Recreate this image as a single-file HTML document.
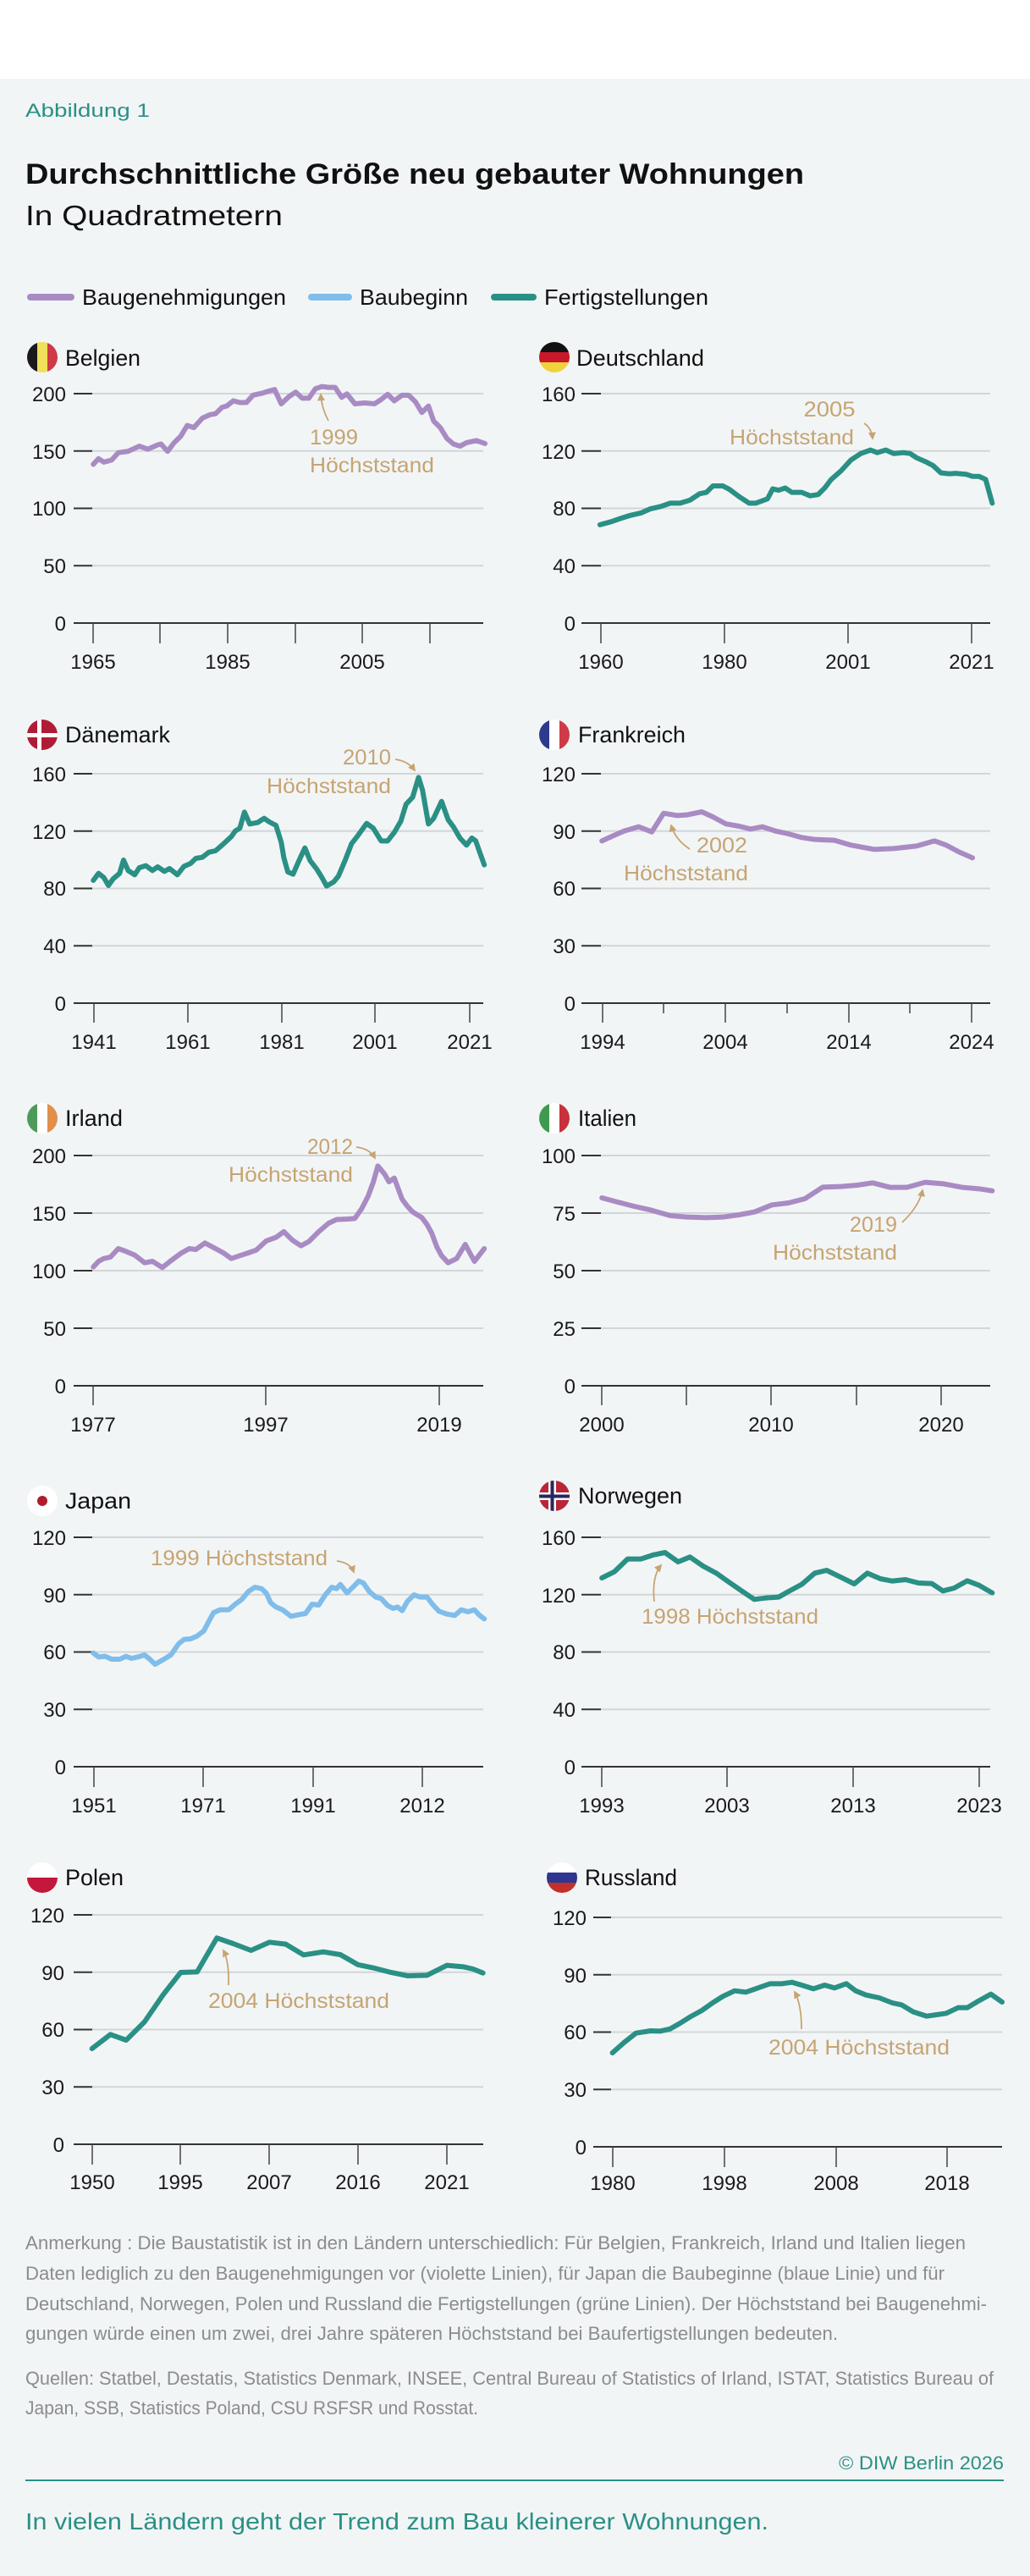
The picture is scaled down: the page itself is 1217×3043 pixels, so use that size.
<!DOCTYPE html>
<html><head><meta charset="utf-8">
<style>
html,body{margin:0;padding:0;background:#fff;}
svg{display:block;}
text{font-family:"Liberation Sans",sans-serif;}
.tk{font-size:24px;fill:#1a1a1a;}
.yr{font-size:24px;fill:#1a1a1a;text-anchor:middle;}
.pt{font-size:27px;fill:#111;}
.an{font-size:25px;fill:#c6a472;}
.nt{font-size:22px;fill:#8c8c8c;}
.g{stroke:#d3d6d8;stroke-width:2;}
.z{stroke:#333;stroke-width:2;}
.d{stroke:#333;stroke-width:2;}
.t{stroke:#444;stroke-width:1.5;}
.s{fill:none;stroke-width:6;stroke-linejoin:round;stroke-linecap:round;vector-effect:non-scaling-stroke;}
.pu{stroke:#a98bc4;}
.bl{stroke:#80bdea;}
.gr{stroke:#2a9085;}
.ar{fill:none;stroke:#c6a472;stroke-width:1.8;}
</style></head>
<body>
<svg width="1217" height="3043" viewBox="0 0 1217 3043" xmlns="http://www.w3.org/2000/svg">
<defs>
<clipPath id="fc" clipPathUnits="userSpaceOnUse"><circle cx="18" cy="18" r="18"/></clipPath>
<marker id="ah" viewBox="0 0 10 10" refX="8" refY="5" markerWidth="5" markerHeight="5" orient="auto"><path d="M0,0 L10,5 L0,10 z" fill="#c6a472"/></marker>
</defs>
<rect x="0" y="0" width="1217" height="3043" fill="#fff"/>
<rect x="0" y="93" width="1217" height="2950" fill="#f2f5f6"/>

<text x="30" y="138" style="font-size:22px;fill:#2a9085" textLength="147" lengthAdjust="spacingAndGlyphs">Abbildung 1</text>
<text x="30" y="217" style="font-size:34px;font-weight:bold;fill:#111" textLength="920" lengthAdjust="spacingAndGlyphs">Durchschnittliche Größe neu gebauter Wohnungen</text>
<text x="30" y="266" style="font-size:33px;fill:#111" textLength="304" lengthAdjust="spacingAndGlyphs">In Quadratmetern</text>

<!-- legend -->
<line x1="36" y1="351" x2="84" y2="351" stroke="#a98bc4" stroke-width="8" stroke-linecap="round"/>
<text x="97" y="360" style="font-size:26px;fill:#111" textLength="241" lengthAdjust="spacingAndGlyphs">Baugenehmigungen</text>
<line x1="368" y1="351" x2="412" y2="351" stroke="#80bdea" stroke-width="8" stroke-linecap="round"/>
<text x="425" y="360" style="font-size:26px;fill:#111" textLength="128" lengthAdjust="spacingAndGlyphs">Baubeginn</text>
<line x1="584" y1="351" x2="630" y2="351" stroke="#2a9085" stroke-width="8" stroke-linecap="round"/>
<text x="643" y="360" style="font-size:26px;fill:#111" textLength="194" lengthAdjust="spacingAndGlyphs">Fertigstellungen</text>

<!-- ===== ROW 1 ===== -->
<!-- Belgien flag -->
<svg x="32" y="404" width="36" height="36"><g clip-path="url(#fc)"><rect x="0" y="0" width="12" height="36" fill="#1a1a1a"/><rect x="12" y="0" width="12" height="36" fill="#f0e05a"/><rect x="24" y="0" width="12" height="36" fill="#cf3a48"/></g></svg>
<text class="pt" x="77" y="432" textLength="89" lengthAdjust="spacingAndGlyphs">Belgien</text>
<!-- Deutschland flag -->
<svg x="637" y="404" width="36" height="36"><g clip-path="url(#fc)"><rect x="0" y="0" width="36" height="12" fill="#111"/><rect x="0" y="12" width="36" height="12" fill="#c8182a"/><rect x="0" y="24" width="36" height="12" fill="#f0d33c"/></g></svg>
<text class="pt" x="681" y="432" textLength="151" lengthAdjust="spacingAndGlyphs">Deutschland</text>

<!-- Belgium axes -->
<g>
<line class="g" x1="109" y1="465" x2="571" y2="465"/><line class="g" x1="109" y1="532.75" x2="571" y2="532.75"/><line class="g" x1="109" y1="600.5" x2="571" y2="600.5"/><line class="g" x1="109" y1="668.25" x2="571" y2="668.25"/>
<line class="z" x1="109" y1="736" x2="571" y2="736"/>
<line class="d" x1="87" y1="465" x2="109" y2="465"/><line class="d" x1="87" y1="532.75" x2="109" y2="532.75"/><line class="d" x1="87" y1="600.5" x2="109" y2="600.5"/><line class="d" x1="87" y1="668.25" x2="109" y2="668.25"/><line class="d" x1="87" y1="736" x2="109" y2="736"/>
<text class="tk" x="78" y="474" text-anchor="end">200</text><text class="tk" x="78" y="542" text-anchor="end">150</text><text class="tk" x="78" y="609" text-anchor="end">100</text><text class="tk" x="78" y="677" text-anchor="end">50</text><text class="tk" x="78" y="745" text-anchor="end">0</text>
<line class="t" x1="110" y1="736" x2="110" y2="760"/><line class="t" x1="189" y1="736" x2="189" y2="760"/><line class="t" x1="269" y1="736" x2="269" y2="760"/><line class="t" x1="349" y1="736" x2="349" y2="760"/><line class="t" x1="428" y1="736" x2="428" y2="760"/><line class="t" x1="508" y1="736" x2="508" y2="760"/>
<text class="yr" x="110" y="790">1965</text><text class="yr" x="269" y="790">1985</text><text class="yr" x="428" y="790">2005</text>
</g>
<!-- Deutschland axes -->
<g>
<line class="g" x1="710" y1="465" x2="1170" y2="465"/><line class="g" x1="710" y1="532.75" x2="1170" y2="532.75"/><line class="g" x1="710" y1="600.5" x2="1170" y2="600.5"/><line class="g" x1="710" y1="668.25" x2="1170" y2="668.25"/>
<line class="z" x1="710" y1="736" x2="1170" y2="736"/>
<line class="d" x1="687" y1="465" x2="710" y2="465"/><line class="d" x1="687" y1="532.75" x2="710" y2="532.75"/><line class="d" x1="687" y1="600.5" x2="710" y2="600.5"/><line class="d" x1="687" y1="668.25" x2="710" y2="668.25"/><line class="d" x1="687" y1="736" x2="710" y2="736"/>
<text class="tk" x="680" y="474" text-anchor="end">160</text><text class="tk" x="680" y="542" text-anchor="end">120</text><text class="tk" x="680" y="609" text-anchor="end">80</text><text class="tk" x="680" y="677" text-anchor="end">40</text><text class="tk" x="680" y="745" text-anchor="end">0</text>
<line class="t" x1="710" y1="736" x2="710" y2="760"/><line class="t" x1="856" y1="736" x2="856" y2="760"/><line class="t" x1="1002" y1="736" x2="1002" y2="760"/><line class="t" x1="1148" y1="736" x2="1148" y2="760"/>
<text class="yr" x="710" y="790">1960</text><text class="yr" x="856" y="790">1980</text><text class="yr" x="1002" y="790">2001</text><text class="yr" x="1148" y="790">2021</text>
</g>
<g transform="translate(0,0) scale(0.7764,0.5102)">
<path class="s pu" d="M142,1075 L150,1062 L158,1070 L170,1065 L180,1048 L195,1045 L212,1033 L225,1040 L240,1030 L245,1028 L255,1045 L265,1025 L275,1010 L285,985 L295,990 L308,968 L320,960 L328,958 L338,943 L345,940 L355,928 L365,932 L375,932 L385,915 L400,910 L410,905 L418,902 L428,935 L440,918 L450,908 L460,922 L470,922 L480,900 L490,895 L500,897 L510,897 L520,920 L528,912 L540,935 L555,933 L570,935 L580,925 L590,913 L600,928 L612,915 L622,915 L632,930 L642,955 L652,940 L660,975 L670,990 L680,1015 L690,1028 L700,1033 L710,1025 L725,1020 L738,1027"/>
<path class="s gr" d="M913,1215 L930,1208 L945,1200 L960,1193 L975,1188 L990,1178 L1005,1173 L1020,1165 L1035,1165 L1050,1158 L1065,1143 L1075,1140 L1085,1125 L1100,1125 L1110,1133 L1125,1150 L1140,1165 L1150,1165 L1168,1155 L1176,1132 L1185,1135 L1195,1130 L1205,1140 L1220,1140 L1233,1148 L1245,1145 L1255,1130 L1265,1110 L1280,1090 L1295,1065 L1310,1050 L1325,1042 L1335,1048 L1348,1042 L1360,1050 L1375,1048 L1385,1050 L1395,1060 L1410,1070 L1420,1078 L1432,1095 L1445,1097 L1455,1096 L1470,1098 L1480,1103 L1490,1103 L1500,1110 L1510,1165"/>
</g>
<text class="an" x="366" y="525" textLength="57" lengthAdjust="spacingAndGlyphs">1999</text>
<text class="an" x="366" y="558" textLength="147" lengthAdjust="spacingAndGlyphs">Höchststand</text>
<path class="ar" d="M388,497 Q380,482 379,466" marker-end="url(#ah)"/>
<text class="an" x="980" y="492" text-anchor="middle" textLength="61" lengthAdjust="spacingAndGlyphs">2005</text>
<text class="an" x="1009" y="525" text-anchor="end" textLength="147" lengthAdjust="spacingAndGlyphs">Höchststand</text>
<path class="ar" d="M1021,500 Q1030,506 1031,518" marker-end="url(#ah)"/>

<!-- ===== ROW 2 ===== -->
<svg x="32" y="850" width="36" height="36"><g clip-path="url(#fc)"><rect width="36" height="36" fill="#b01c36"/><rect x="12" y="0" width="5" height="36" fill="#fff"/><rect x="0" y="16" width="36" height="5" fill="#fff"/></g></svg>
<text class="pt" x="77" y="877" textLength="124" lengthAdjust="spacingAndGlyphs">Dänemark</text>
<svg x="637" y="850" width="36" height="36"><g clip-path="url(#fc)"><rect x="0" y="0" width="12" height="36" fill="#2d3a8c"/><rect x="12" y="0" width="12" height="36" fill="#fff"/><rect x="24" y="0" width="12" height="36" fill="#cf3a48"/></g></svg>
<text class="pt" x="683" y="877" textLength="127" lengthAdjust="spacingAndGlyphs">Frankreich</text>
<g>
<line class="g" x1="109" y1="914" x2="571" y2="914"/><line class="g" x1="109" y1="981.75" x2="571" y2="981.75"/><line class="g" x1="109" y1="1049.5" x2="571" y2="1049.5"/><line class="g" x1="109" y1="1117.25" x2="571" y2="1117.25"/>
<line class="z" x1="109" y1="1185" x2="571" y2="1185"/>
<line class="d" x1="87" y1="914" x2="109" y2="914"/><line class="d" x1="87" y1="981.75" x2="109" y2="981.75"/><line class="d" x1="87" y1="1049.5" x2="109" y2="1049.5"/><line class="d" x1="87" y1="1117.25" x2="109" y2="1117.25"/><line class="d" x1="87" y1="1185" x2="109" y2="1185"/>
<text class="tk" x="78" y="923" text-anchor="end">160</text><text class="tk" x="78" y="991" text-anchor="end">120</text><text class="tk" x="78" y="1058" text-anchor="end">80</text><text class="tk" x="78" y="1126" text-anchor="end">40</text><text class="tk" x="78" y="1194" text-anchor="end">0</text>
<line class="t" x1="111" y1="1185" x2="111" y2="1208"/><line class="t" x1="222" y1="1185" x2="222" y2="1208"/><line class="t" x1="333" y1="1185" x2="333" y2="1208"/><line class="t" x1="443" y1="1185" x2="443" y2="1208"/><line class="t" x1="555" y1="1185" x2="555" y2="1208"/>
<text class="yr" x="111" y="1239">1941</text><text class="yr" x="222" y="1239">1961</text><text class="yr" x="333" y="1239">1981</text><text class="yr" x="443" y="1239">2001</text><text class="yr" x="555" y="1239">2021</text>
</g>
<g>
<line class="g" x1="710" y1="914" x2="1170" y2="914"/><line class="g" x1="710" y1="981.75" x2="1170" y2="981.75"/><line class="g" x1="710" y1="1049.5" x2="1170" y2="1049.5"/><line class="g" x1="710" y1="1117.25" x2="1170" y2="1117.25"/>
<line class="z" x1="710" y1="1185" x2="1170" y2="1185"/>
<line class="d" x1="687" y1="914" x2="710" y2="914"/><line class="d" x1="687" y1="981.75" x2="710" y2="981.75"/><line class="d" x1="687" y1="1049.5" x2="710" y2="1049.5"/><line class="d" x1="687" y1="1117.25" x2="710" y2="1117.25"/><line class="d" x1="687" y1="1185" x2="710" y2="1185"/>
<text class="tk" x="680" y="923" text-anchor="end">120</text><text class="tk" x="680" y="991" text-anchor="end">90</text><text class="tk" x="680" y="1058" text-anchor="end">60</text><text class="tk" x="680" y="1126" text-anchor="end">30</text><text class="tk" x="680" y="1194" text-anchor="end">0</text>
<line class="t" x1="712" y1="1185" x2="712" y2="1208"/><line class="t" x1="784" y1="1185" x2="784" y2="1197"/><line class="t" x1="857" y1="1185" x2="857" y2="1208"/><line class="t" x1="930" y1="1185" x2="930" y2="1197"/><line class="t" x1="1003" y1="1185" x2="1003" y2="1208"/><line class="t" x1="1075" y1="1185" x2="1075" y2="1197"/><line class="t" x1="1148" y1="1185" x2="1148" y2="1208"/>
<text class="yr" x="712" y="1239">1994</text><text class="yr" x="857" y="1239">2004</text><text class="yr" x="1003" y="1239">2014</text><text class="yr" x="1148" y="1239">2024</text>
</g>
<g transform="translate(0,840) scale(0.7764,0.33333)">
<path class="s gr" d="M142,600 L150,575 L158,590 L165,618 L172,595 L182,575 L188,528 L195,565 L205,580 L212,555 L222,548 L232,565 L240,552 L250,568 L258,558 L270,580 L280,550 L290,540 L298,522 L308,518 L318,500 L328,495 L338,475 L345,460 L352,445 L358,425 L365,415 L372,358 L380,400 L392,395 L402,380 L410,393 L420,405 L428,465 L432,520 L438,570 L446,578 L455,530 L464,485 L472,530 L482,560 L490,590 L497,620 L508,605 L515,585 L525,530 L535,470 L545,440 L558,398 L568,415 L580,460 L590,460 L600,430 L610,390 L618,330 L628,305 L637,235 L643,280 L652,400 L660,380 L672,320 L682,385 L690,410 L700,450 L710,475 L718,450 L724,460 L730,500 L737,545"/>
<path class="s pu" d="M916,460 L935,440 L950,425 L972,410 L992,428 L1010,362 L1030,370 L1045,368 L1068,357 L1085,375 L1105,400 L1125,408 L1142,418 L1160,410 L1180,425 L1200,435 L1220,448 L1240,455 L1270,458 L1295,475 L1330,490 L1360,487 L1395,478 L1422,460 L1440,475 L1460,500 L1480,520"/>
</g>
<text class="an" x="462" y="903" text-anchor="end" textLength="57" lengthAdjust="spacingAndGlyphs">2010</text>
<text class="an" x="462" y="937" text-anchor="end" textLength="147" lengthAdjust="spacingAndGlyphs">Höchststand</text>
<path class="ar" d="M467,897 Q482,899 490,910" marker-end="url(#ah)"/>
<text class="an" x="823" y="1007" textLength="60" lengthAdjust="spacingAndGlyphs">2002</text>
<text class="an" x="884" y="1040" text-anchor="end" textLength="147" lengthAdjust="spacingAndGlyphs">Höchststand</text>
<path class="ar" d="M815,1003 Q798,992 793,975" marker-end="url(#ah)"/>

<!-- ===== ROW 3 ===== -->
<svg x="32" y="1303" width="36" height="36"><g clip-path="url(#fc)"><rect x="0" y="0" width="12" height="36" fill="#4e9a5a"/><rect x="12" y="0" width="12" height="36" fill="#fff"/><rect x="24" y="0" width="12" height="36" fill="#e0904a"/></g></svg>
<text class="pt" x="77" y="1330" textLength="68" lengthAdjust="spacingAndGlyphs">Irland</text>
<svg x="637" y="1303" width="36" height="36"><g clip-path="url(#fc)"><rect x="0" y="0" width="12" height="36" fill="#3f9a4f"/><rect x="12" y="0" width="12" height="36" fill="#fff"/><rect x="24" y="0" width="12" height="36" fill="#c8303b"/></g></svg>
<text class="pt" x="683" y="1330" textLength="69" lengthAdjust="spacingAndGlyphs">Italien</text>
<g>
<line class="g" x1="109" y1="1365" x2="571" y2="1365"/><line class="g" x1="109" y1="1433" x2="571" y2="1433"/><line class="g" x1="109" y1="1501" x2="571" y2="1501"/><line class="g" x1="109" y1="1569" x2="571" y2="1569"/>
<line class="z" x1="109" y1="1637" x2="571" y2="1637"/>
<line class="d" x1="87" y1="1365" x2="109" y2="1365"/><line class="d" x1="87" y1="1433" x2="109" y2="1433"/><line class="d" x1="87" y1="1501" x2="109" y2="1501"/><line class="d" x1="87" y1="1569" x2="109" y2="1569"/><line class="d" x1="87" y1="1637" x2="109" y2="1637"/>
<text class="tk" x="78" y="1374" text-anchor="end">200</text><text class="tk" x="78" y="1442" text-anchor="end">150</text><text class="tk" x="78" y="1510" text-anchor="end">100</text><text class="tk" x="78" y="1578" text-anchor="end">50</text><text class="tk" x="78" y="1646" text-anchor="end">0</text>
<line class="t" x1="110" y1="1637" x2="110" y2="1660"/><line class="t" x1="314" y1="1637" x2="314" y2="1660"/><line class="t" x1="519" y1="1637" x2="519" y2="1660"/>
<text class="yr" x="110" y="1691">1977</text><text class="yr" x="314" y="1691">1997</text><text class="yr" x="519" y="1691">2019</text>
</g>
<g>
<line class="g" x1="710" y1="1365" x2="1170" y2="1365"/><line class="g" x1="710" y1="1433" x2="1170" y2="1433"/><line class="g" x1="710" y1="1501" x2="1170" y2="1501"/><line class="g" x1="710" y1="1569" x2="1170" y2="1569"/>
<line class="z" x1="710" y1="1637" x2="1170" y2="1637"/>
<line class="d" x1="687" y1="1365" x2="710" y2="1365"/><line class="d" x1="687" y1="1433" x2="710" y2="1433"/><line class="d" x1="687" y1="1501" x2="710" y2="1501"/><line class="d" x1="687" y1="1569" x2="710" y2="1569"/><line class="d" x1="687" y1="1637" x2="710" y2="1637"/>
<text class="tk" x="680" y="1374" text-anchor="end">100</text><text class="tk" x="680" y="1442" text-anchor="end">75</text><text class="tk" x="680" y="1510" text-anchor="end">50</text><text class="tk" x="680" y="1578" text-anchor="end">25</text><text class="tk" x="680" y="1646" text-anchor="end">0</text>
<line class="t" x1="711" y1="1637" x2="711" y2="1660"/><line class="t" x1="811" y1="1637" x2="811" y2="1660"/><line class="t" x1="911" y1="1637" x2="911" y2="1660"/><line class="t" x1="1012" y1="1637" x2="1012" y2="1660"/><line class="t" x1="1112" y1="1637" x2="1112" y2="1660"/>
<text class="yr" x="711" y="1691">2000</text><text class="yr" x="911" y="1691">2010</text><text class="yr" x="1112" y="1691">2020</text>
</g>
<g transform="translate(0,1290) scale(0.7764,0.33333)">
<path class="s pu" d="M142,620 L150,600 L158,590 L168,585 L180,555 L192,565 L205,578 L220,605 L232,600 L247,622 L260,598 L275,572 L288,555 L298,558 L312,535 L328,555 L340,570 L352,590 L365,580 L378,570 L390,560 L405,528 L420,515 L432,495 L445,525 L458,545 L470,530 L485,495 L500,465 L512,452 L530,450 L540,448 L550,415 L560,370 L568,320 L575,262 L585,290 L592,318 L600,305 L612,380 L620,405 L628,425 L642,445 L650,470 L657,500 L665,550 L672,580 L682,605 L695,590 L708,540 L722,600 L737,555"/>
<path class="s pu" d="M916,375 L940,390 L965,405 L990,418 L1020,438 L1045,443 L1075,445 L1100,443 L1125,435 L1148,425 L1175,400 L1200,393 L1225,378 L1252,337 L1280,335 L1305,330 L1328,322 L1355,338 L1380,338 L1408,320 L1435,325 L1465,338 L1490,343 L1510,350"/>
</g>
<text class="an" x="417" y="1363" text-anchor="end" textLength="54" lengthAdjust="spacingAndGlyphs">2012</text>
<text class="an" x="417" y="1396" text-anchor="end" textLength="147" lengthAdjust="spacingAndGlyphs">Höchststand</text>
<path class="ar" d="M421,1355 Q437,1357 443,1368" marker-end="url(#ah)"/>
<text class="an" x="1060" y="1455" text-anchor="end" textLength="56" lengthAdjust="spacingAndGlyphs">2019</text>
<text class="an" x="1060" y="1488" text-anchor="end" textLength="147" lengthAdjust="spacingAndGlyphs">Höchststand</text>
<path class="ar" d="M1066,1444 Q1086,1425 1090,1406" marker-end="url(#ah)"/>

<!-- ===== ROW 4 ===== -->
<svg x="32" y="1755" width="36" height="36"><g clip-path="url(#fc)"><rect width="36" height="36" fill="#fff"/><circle cx="18" cy="18" r="6" fill="#b01c2e"/></g></svg>
<text class="pt" x="77" y="1782" textLength="78" lengthAdjust="spacingAndGlyphs">Japan</text>
<svg x="637" y="1749" width="36" height="36"><g clip-path="url(#fc)"><rect width="36" height="36" fill="#b8263a"/><rect x="11" y="0" width="9" height="36" fill="#fff"/><rect x="0" y="14" width="36" height="9" fill="#fff"/><rect x="13.5" y="0" width="4" height="36" fill="#25285e"/><rect x="0" y="16.5" width="36" height="4" fill="#25285e"/></g></svg>
<text class="pt" x="683" y="1776" textLength="123" lengthAdjust="spacingAndGlyphs">Norwegen</text>
<g>
<line class="g" x1="109" y1="1816" x2="571" y2="1816"/><line class="g" x1="109" y1="1883.75" x2="571" y2="1883.75"/><line class="g" x1="109" y1="1951.5" x2="571" y2="1951.5"/><line class="g" x1="109" y1="2019.25" x2="571" y2="2019.25"/>
<line class="z" x1="109" y1="2087" x2="571" y2="2087"/>
<line class="d" x1="87" y1="1816" x2="109" y2="1816"/><line class="d" x1="87" y1="1883.75" x2="109" y2="1883.75"/><line class="d" x1="87" y1="1951.5" x2="109" y2="1951.5"/><line class="d" x1="87" y1="2019.25" x2="109" y2="2019.25"/><line class="d" x1="87" y1="2087" x2="109" y2="2087"/>
<text class="tk" x="78" y="1825" text-anchor="end">120</text><text class="tk" x="78" y="1893" text-anchor="end">90</text><text class="tk" x="78" y="1960" text-anchor="end">60</text><text class="tk" x="78" y="2028" text-anchor="end">30</text><text class="tk" x="78" y="2096" text-anchor="end">0</text>
<line class="t" x1="111" y1="2087" x2="111" y2="2111"/><line class="t" x1="240" y1="2087" x2="240" y2="2111"/><line class="t" x1="370" y1="2087" x2="370" y2="2111"/><line class="t" x1="499" y1="2087" x2="499" y2="2111"/>
<text class="yr" x="111" y="2141">1951</text><text class="yr" x="240" y="2141">1971</text><text class="yr" x="370" y="2141">1991</text><text class="yr" x="499" y="2141">2012</text>
</g>
<g>
<line class="g" x1="710" y1="1816" x2="1170" y2="1816"/><line class="g" x1="710" y1="1883.75" x2="1170" y2="1883.75"/><line class="g" x1="710" y1="1951.5" x2="1170" y2="1951.5"/><line class="g" x1="710" y1="2019.25" x2="1170" y2="2019.25"/>
<line class="z" x1="710" y1="2087" x2="1170" y2="2087"/>
<line class="d" x1="687" y1="1816" x2="710" y2="1816"/><line class="d" x1="687" y1="1883.75" x2="710" y2="1883.75"/><line class="d" x1="687" y1="1951.5" x2="710" y2="1951.5"/><line class="d" x1="687" y1="2019.25" x2="710" y2="2019.25"/><line class="d" x1="687" y1="2087" x2="710" y2="2087"/>
<text class="tk" x="680" y="1825" text-anchor="end">160</text><text class="tk" x="680" y="1893" text-anchor="end">120</text><text class="tk" x="680" y="1960" text-anchor="end">80</text><text class="tk" x="680" y="2028" text-anchor="end">40</text><text class="tk" x="680" y="2096" text-anchor="end">0</text>
<line class="t" x1="711" y1="2087" x2="711" y2="2111"/><line class="t" x1="859" y1="2087" x2="859" y2="2111"/><line class="t" x1="1008" y1="2087" x2="1008" y2="2111"/><line class="t" x1="1157" y1="2087" x2="1157" y2="2111"/>
<text class="yr" x="711" y="2141">1993</text><text class="yr" x="859" y="2141">2003</text><text class="yr" x="1008" y="2141">2013</text><text class="yr" x="1157" y="2141">2023</text>
</g>
<g transform="translate(0,1740) scale(0.7764,0.33333)">
<path class="s bl" d="M142,638 L150,652 L160,650 L170,660 L182,660 L192,650 L200,657 L210,652 L220,645 L228,660 L236,678 L248,662 L260,645 L272,605 L280,590 L290,588 L300,578 L310,560 L318,525 L325,495 L335,485 L348,485 L358,465 L368,448 L378,420 L388,405 L398,410 L405,425 L412,460 L420,475 L430,485 L443,508 L455,502 L465,498 L475,465 L485,468 L495,432 L505,405 L512,410 L518,395 L528,425 L537,405 L546,383 L553,390 L562,420 L572,440 L580,445 L590,470 L598,480 L605,475 L612,488 L620,455 L630,432 L640,440 L650,440 L658,465 L668,490 L680,500 L692,505 L702,485 L712,492 L722,485 L730,505 L737,517"/>
<path class="s gr" d="M916,372 L935,350 L955,305 L975,305 L995,290 L1012,282 L1032,315 L1050,298 L1070,330 L1090,355 L1110,388 L1130,420 L1148,448 L1165,443 L1185,440 L1200,420 L1220,395 L1240,355 L1258,345 L1280,370 L1300,393 L1320,355 L1340,375 L1358,383 L1378,378 L1398,390 L1418,392 L1435,418 L1452,408 L1472,382 L1490,398 L1510,425"/>
</g>
<text class="an" x="387" y="1849" text-anchor="end" textLength="209" lengthAdjust="spacingAndGlyphs">1999 Höchststand</text>
<path class="ar" d="M398,1844 Q414,1846 418,1857" marker-end="url(#ah)"/>
<text class="an" x="758" y="1918" textLength="209" lengthAdjust="spacingAndGlyphs">1998 Höchststand</text>
<path class="ar" d="M773,1892 Q770,1862 781,1849" marker-end="url(#ah)"/>

<!-- ===== ROW 5 ===== -->
<svg x="32" y="2200" width="36" height="36"><g clip-path="url(#fc)"><rect width="36" height="18" fill="#fff"/><rect x="0" y="18" width="36" height="18" fill="#c4173c"/></g></svg>
<text class="pt" x="77" y="2227" textLength="69" lengthAdjust="spacingAndGlyphs">Polen</text>
<svg x="646" y="2200" width="36" height="36"><g clip-path="url(#fc)"><rect width="36" height="12" fill="#fff"/><rect x="0" y="12" width="36" height="12" fill="#2f3690"/><rect x="0" y="24" width="36" height="12" fill="#c1302a"/></g></svg>
<text class="pt" x="691" y="2227" textLength="109" lengthAdjust="spacingAndGlyphs">Russland</text>
<g>
<line class="g" x1="109" y1="2262" x2="571" y2="2262"/><line class="g" x1="109" y1="2329.75" x2="571" y2="2329.75"/><line class="g" x1="109" y1="2397.5" x2="571" y2="2397.5"/><line class="g" x1="109" y1="2465.25" x2="571" y2="2465.25"/>
<line class="z" x1="109" y1="2533" x2="571" y2="2533"/>
<line class="d" x1="87" y1="2262" x2="109" y2="2262"/><line class="d" x1="87" y1="2329.75" x2="109" y2="2329.75"/><line class="d" x1="87" y1="2397.5" x2="109" y2="2397.5"/><line class="d" x1="87" y1="2465.25" x2="109" y2="2465.25"/><line class="d" x1="87" y1="2533" x2="109" y2="2533"/>
<text class="tk" x="76" y="2271" text-anchor="end">120</text><text class="tk" x="76" y="2339" text-anchor="end">90</text><text class="tk" x="76" y="2406" text-anchor="end">60</text><text class="tk" x="76" y="2474" text-anchor="end">30</text><text class="tk" x="76" y="2542" text-anchor="end">0</text>
<line class="t" x1="109" y1="2533" x2="109" y2="2557"/><line class="t" x1="213" y1="2533" x2="213" y2="2557"/><line class="t" x1="318" y1="2533" x2="318" y2="2557"/><line class="t" x1="423" y1="2533" x2="423" y2="2557"/><line class="t" x1="528" y1="2533" x2="528" y2="2557"/>
<text class="yr" x="109" y="2586">1950</text><text class="yr" x="213" y="2586">1995</text><text class="yr" x="318" y="2586">2007</text><text class="yr" x="423" y="2586">2016</text><text class="yr" x="528" y="2586">2021</text>
</g>
<g>
<line class="g" x1="722" y1="2265" x2="1184" y2="2265"/><line class="g" x1="722" y1="2332.75" x2="1184" y2="2332.75"/><line class="g" x1="722" y1="2400.5" x2="1184" y2="2400.5"/><line class="g" x1="722" y1="2468.25" x2="1184" y2="2468.25"/>
<line class="z" x1="722" y1="2536" x2="1184" y2="2536"/>
<line class="d" x1="701" y1="2265" x2="722" y2="2265"/><line class="d" x1="701" y1="2332.75" x2="722" y2="2332.75"/><line class="d" x1="701" y1="2400.5" x2="722" y2="2400.5"/><line class="d" x1="701" y1="2468.25" x2="722" y2="2468.25"/><line class="d" x1="701" y1="2536" x2="722" y2="2536"/>
<text class="tk" x="693" y="2274" text-anchor="end">120</text><text class="tk" x="693" y="2342" text-anchor="end">90</text><text class="tk" x="693" y="2409" text-anchor="end">60</text><text class="tk" x="693" y="2477" text-anchor="end">30</text><text class="tk" x="693" y="2545" text-anchor="end">0</text>
<line class="t" x1="724" y1="2536" x2="724" y2="2560"/><line class="t" x1="856" y1="2536" x2="856" y2="2560"/><line class="t" x1="988" y1="2536" x2="988" y2="2560"/><line class="t" x1="1119" y1="2536" x2="1119" y2="2560"/>
<text class="yr" x="724" y="2587">1980</text><text class="yr" x="856" y="2587">1998</text><text class="yr" x="988" y="2587">2008</text><text class="yr" x="1119" y="2587">2018</text>
</g>
<g transform="translate(0,2190) scale(0.7764,0.33333)">
<path class="s gr" d="M140,690 L168,640 L192,660 L220,595 L248,500 L275,420 L300,418 L330,298 L355,318 L382,342 L410,313 L435,320 L462,358 L492,347 L518,357 L545,393 L570,405 L595,420 L620,432 L650,430 L680,395 L705,400 L720,408 L735,422"/>
<path class="s gr" d="M932,705 L950,668 L968,635 L990,627 L1005,628 L1020,620 L1035,600 L1050,578 L1068,555 L1085,527 L1100,505 L1118,485 L1135,490 L1150,478 L1172,460 L1190,460 L1205,455 L1220,465 L1238,478 L1255,465 L1270,475 L1288,460 L1302,485 L1318,500 L1338,510 L1358,528 L1372,535 L1390,560 L1410,575 L1425,570 L1440,565 L1458,545 L1472,545 L1490,520 L1508,497 L1525,525"/>
</g>
<text class="an" x="246" y="2372" textLength="214" lengthAdjust="spacingAndGlyphs">2004 Höchststand</text>
<path class="ar" d="M270,2345 Q271,2318 264,2304" marker-end="url(#ah)"/>
<text class="an" x="908" y="2427" textLength="214" lengthAdjust="spacingAndGlyphs">2004 Höchststand</text>
<path class="ar" d="M947,2397 Q947,2368 939,2353" marker-end="url(#ah)"/>

<!-- notes -->
<text class="nt" x="30" y="2657" textLength="1111" lengthAdjust="spacingAndGlyphs">Anmerkung : Die Baustatistik ist in den Ländern unterschiedlich: Für Belgien, Frankreich, Irland und Italien liegen</text>
<text class="nt" x="30" y="2693" textLength="1086" lengthAdjust="spacingAndGlyphs">Daten lediglich zu den Baugenehmigungen vor (violette Linien), für Japan die Baubeginne (blaue Linie) und für</text>
<text class="nt" x="30" y="2729" textLength="1136" lengthAdjust="spacingAndGlyphs">Deutschland, Norwegen, Polen und Russland die Fertigstellungen (grüne Linien). Der Höchststand bei Baugenehmi-</text>
<text class="nt" x="30" y="2764" textLength="960" lengthAdjust="spacingAndGlyphs">gungen würde einen um zwei, drei Jahre späteren Höchststand bei Baufertigstellungen bedeuten.</text>
<text class="nt" x="30" y="2817" textLength="1144" lengthAdjust="spacingAndGlyphs">Quellen: Statbel, Destatis, Statistics Denmark, INSEE, Central Bureau of Statistics of Irland, ISTAT, Statistics Bureau of</text>
<text class="nt" x="30" y="2852" textLength="535" lengthAdjust="spacingAndGlyphs">Japan, SSB, Statistics Poland, CSU RSFSR und Rosstat.</text>
<text x="1186" y="2917" text-anchor="end" style="font-size:22px;fill:#2a9085" textLength="195" lengthAdjust="spacingAndGlyphs">© DIW Berlin 2026</text>
<line x1="30" y1="2930" x2="1186" y2="2930" stroke="#2a9085" stroke-width="2"/>
<text x="30" y="2988" style="font-size:28px;fill:#2a9085" textLength="878" lengthAdjust="spacingAndGlyphs">In vielen Ländern geht der Trend zum Bau kleinerer Wohnungen.</text>
</svg>
</body></html>
